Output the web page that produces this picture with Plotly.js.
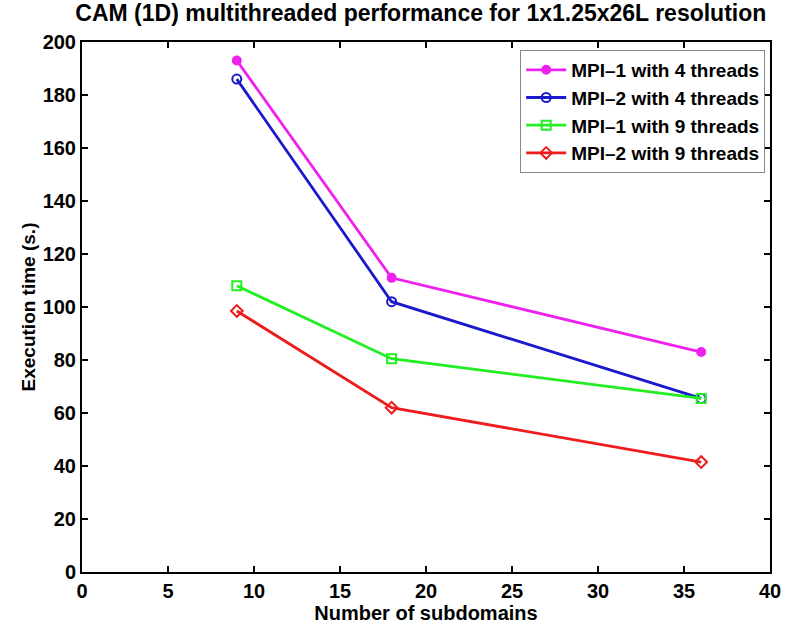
<!DOCTYPE html>
<html><head><meta charset="utf-8">
<script src="https://cdn.plot.ly/plotly-3.0.1.min.js"></script>
<style>html,body{margin:0;padding:0;background:#fff}#chart{width:794px;height:628px}</style>
</head><body><div id="chart"></div>
<script>
const subdomains = [9, 18, 36];
const mpi1_4 = [193, 111, 83];
const mpi2_4 = [186, 102, 65.5];
const mpi1_9 = [108, 80.5, 65.5];
const mpi2_9 = [98.5, 62, 41.5];
const seriesNames = ["MPI\u20131 with 4 threads", "MPI\u20132 with 4 threads", "MPI\u20131 with 9 threads", "MPI\u20132 with 9 threads"];
const xTicks = [0,5,10,15,20,25,30,35,40];
const yTicks = [0,20,40,60,80,100,120,140,160,180,200];

const FONT = "'Liberation Sans', Arial, sans-serif";
function tr(y, name, color, symbol, size){
  return {x: subdomains, y: y, name: name, type:'scatter', mode:'lines+markers',
    line:{color:color, width:2.8},
    marker:{symbol:symbol, size:size, color:color, line:{color:color, width:2}}};
}
const data = [
  tr(mpi1_4, seriesNames[0], '#ee22ee', 'circle', 8),
  tr(mpi2_4, seriesNames[1], '#1a1acc', 'circle-open', 9),
  tr(mpi1_9, seriesNames[2], '#22ee22', 'square-open', 9),
  tr(mpi2_9, seriesNames[3], '#ee1c1c', 'diamond-open', 9)
];
const axisCommon = {showgrid:false, zeroline:false, showline:true, mirror:'ticks', linecolor:'#000', linewidth:2,
  ticks:'inside', ticklen:6, tickwidth:2, tickcolor:'#000',
  tickfont:{family:FONT, size:20, color:'#000', weight:'bold'}};
const layout = {
  width:794, height:628,
  margin:{l:82, r:24, t:42, b:56},
  paper_bgcolor:'#fff', plot_bgcolor:'#fff',
  title:{text:'<b>CAM (1D) multithreaded performance for 1x1.25x26L resolution</b>', font:{family:FONT, size:23, color:'#000'}, x:0.53, xanchor:'center', y:0.992, yanchor:'top'},
  xaxis: Object.assign({}, axisCommon, {range:[0,40], tickvals:xTicks, ticktext:xTicks.map(String),
    title:{text:'<b>Number of subdomains</b>', font:{family:FONT, size:20, color:'#000'}, standoff:0}}),
  yaxis: Object.assign({}, axisCommon, {range:[0,200], tickvals:yTicks, ticktext:yTicks.map(String),
    title:{text:'<b>Execution time (s.)</b>', font:{family:FONT, size:19, color:'#000'}, standoff:2}}),
  legend:{x:0.993, y:0.985, xanchor:'right', yanchor:'top', bgcolor:'#fff', bordercolor:'#888', borderwidth:1,
    font:{family:FONT, size:19, color:'#000', weight:'bold'}, tracegroupgap:0, itemwidth:40},
  showlegend:true
};
Plotly.newPlot('chart', data, layout, {displayModeBar:false, staticPlot:true});
</script></body></html>
